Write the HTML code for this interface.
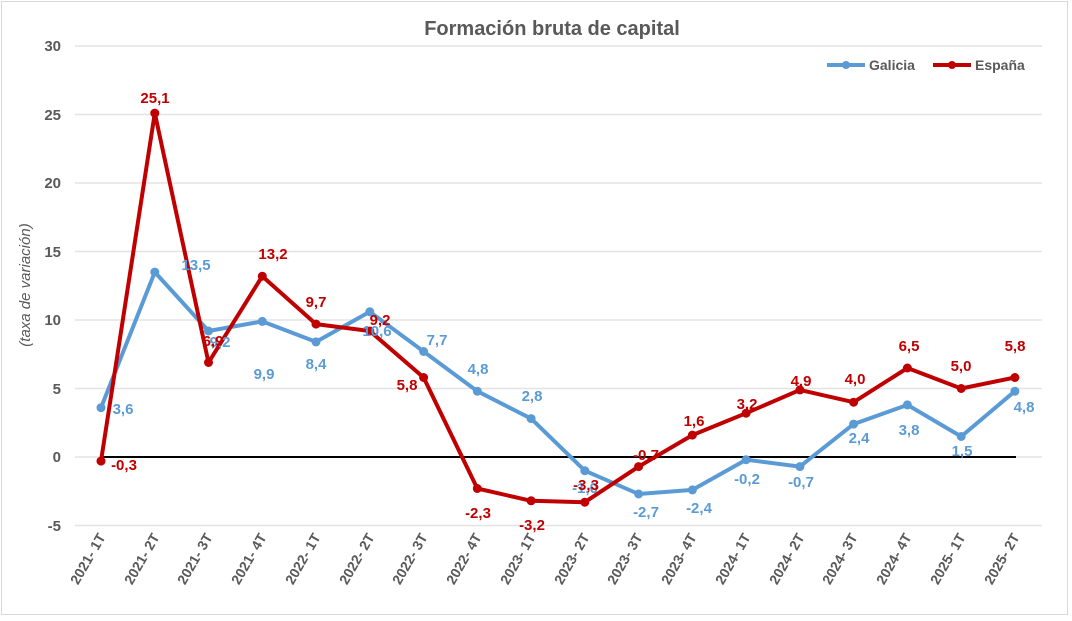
<!DOCTYPE html>
<html><head><meta charset="utf-8"><style>
html,body{margin:0;padding:0;background:#fff}
svg{display:block;font-family:"Liberation Sans",Arial,sans-serif}
</style></head><body>
<svg width="1072" height="621" viewBox="0 0 1072 621" xmlns="http://www.w3.org/2000/svg">
<rect x="1.5" y="1.5" width="1066" height="613" fill="#fff" stroke="#d9d9d9" stroke-width="1"/>
<text x="552" y="35" text-anchor="middle" font-size="20" font-weight="bold" fill="#595959">Formación bruta de capital</text>
<g stroke="#e3e3e3" stroke-width="1.5">
<line x1="75" x2="1042" y1="46" y2="46"/><line x1="75" x2="1042" y1="114.5" y2="114.5"/>
<line x1="75" x2="1042" y1="183" y2="183"/><line x1="75" x2="1042" y1="251.5" y2="251.5"/>
<line x1="75" x2="1042" y1="320" y2="320"/><line x1="75" x2="1042" y1="388.5" y2="388.5"/>
<line x1="75" x2="1042" y1="457" y2="457"/><line x1="75" x2="1042" y1="525.5" y2="525.5"/>
</g>
<line x1="101" x2="1016" y1="457" y2="457" stroke="#000" stroke-width="2"/>
<g font-size="15" font-weight="bold" fill="#595959" text-anchor="end">
<text x="61" y="51">30</text><text x="61" y="120">25</text><text x="61" y="188">20</text>
<text x="61" y="257">15</text><text x="61" y="325">10</text><text x="61" y="394">5</text>
<text x="61" y="462">0</text><text x="61" y="531">-5</text>
</g>
<text transform="translate(30,285) rotate(-90)" text-anchor="middle" font-size="15" font-style="italic" fill="#595959">(taxa de variación)</text>
<g font-size="14" font-weight="bold" fill="#595959" text-anchor="end">
<text transform="translate(106,537) rotate(-60)">2021- 1T</text>
<text transform="translate(160,537) rotate(-60)">2021- 2T</text>
<text transform="translate(213,537) rotate(-60)">2021- 3T</text>
<text transform="translate(267,537) rotate(-60)">2021- 4T</text>
<text transform="translate(321,537) rotate(-60)">2022- 1T</text>
<text transform="translate(375,537) rotate(-60)">2022- 2T</text>
<text transform="translate(428,537) rotate(-60)">2022- 3T</text>
<text transform="translate(482,537) rotate(-60)">2022- 4T</text>
<text transform="translate(536,537) rotate(-60)">2023- 1T</text>
<text transform="translate(590,537) rotate(-60)">2023- 2T</text>
<text transform="translate(643,537) rotate(-60)">2023- 3T</text>
<text transform="translate(697,537) rotate(-60)">2023- 4T</text>
<text transform="translate(751,537) rotate(-60)">2024- 1T</text>
<text transform="translate(805,537) rotate(-60)">2024- 2T</text>
<text transform="translate(858,537) rotate(-60)">2024- 3T</text>
<text transform="translate(912,537) rotate(-60)">2024- 4T</text>
<text transform="translate(966,537) rotate(-60)">2025- 1T</text>
<text transform="translate(1020,537) rotate(-60)">2025- 2T</text>
</g>
<polyline fill="none" stroke="#5b9bd5" stroke-width="4" stroke-linejoin="round" points="101,407.7 154.8,272.1 208.5,331 262.3,321.4 316,341.9 369.8,311.8 423.6,351.5 477.3,391.2 531.1,418.6 584.8,470.7 638.6,494 692.4,489.9 746.1,459.7 799.9,466.6 853.6,424.1 907.4,404.9 961.2,436.5 1014.9,391.2"/>
<g fill="#5b9bd5">
<circle cx="101" cy="407.7" r="4.5"/><circle cx="154.8" cy="272.1" r="4.5"/><circle cx="208.5" cy="331" r="4.5"/><circle cx="262.3" cy="321.4" r="4.5"/><circle cx="316" cy="341.9" r="4.5"/><circle cx="369.8" cy="311.8" r="4.5"/><circle cx="423.6" cy="351.5" r="4.5"/><circle cx="477.3" cy="391.2" r="4.5"/><circle cx="531.1" cy="418.6" r="4.5"/><circle cx="584.8" cy="470.7" r="4.5"/><circle cx="638.6" cy="494" r="4.5"/><circle cx="692.4" cy="489.9" r="4.5"/><circle cx="746.1" cy="459.7" r="4.5"/><circle cx="799.9" cy="466.6" r="4.5"/><circle cx="853.6" cy="424.1" r="4.5"/><circle cx="907.4" cy="404.9" r="4.5"/><circle cx="961.2" cy="436.5" r="4.5"/><circle cx="1014.9" cy="391.2" r="4.5"/>
</g>
<polyline fill="none" stroke="#c00000" stroke-width="4" stroke-linejoin="round" points="101,461.1 154.8,113.1 208.5,362.5 262.3,276.2 316,324.1 369.8,331 423.6,377.5 477.3,488.5 531.1,500.8 584.8,502.2 638.6,466.6 692.4,435.1 746.1,413.2 799.9,389.9 853.6,402.2 907.4,368 961.2,388.5 1014.9,377.5"/>
<g fill="#c00000">
<circle cx="101" cy="461.1" r="4.5"/><circle cx="154.8" cy="113.1" r="4.5"/><circle cx="208.5" cy="362.5" r="4.5"/><circle cx="262.3" cy="276.2" r="4.5"/><circle cx="316" cy="324.1" r="4.5"/><circle cx="369.8" cy="331" r="4.5"/><circle cx="423.6" cy="377.5" r="4.5"/><circle cx="477.3" cy="488.5" r="4.5"/><circle cx="531.1" cy="500.8" r="4.5"/><circle cx="584.8" cy="502.2" r="4.5"/><circle cx="638.6" cy="466.6" r="4.5"/><circle cx="692.4" cy="435.1" r="4.5"/><circle cx="746.1" cy="413.2" r="4.5"/><circle cx="799.9" cy="389.9" r="4.5"/><circle cx="853.6" cy="402.2" r="4.5"/><circle cx="907.4" cy="368" r="4.5"/><circle cx="961.2" cy="388.5" r="4.5"/><circle cx="1014.9" cy="377.5" r="4.5"/>
</g>
<g font-size="15" font-weight="bold" fill="#5b9bd5" text-anchor="middle">
<text x="123" y="414">3,6</text><text x="196" y="270">13,5</text><text x="220" y="347">9,2</text>
<text x="264" y="379">9,9</text><text x="316" y="369">8,4</text><text x="377" y="336">10,6</text>
<text x="437" y="345">7,7</text><text x="478" y="374">4,8</text><text x="532" y="401">2,8</text>
<text x="585" y="493">-1,0</text><text x="646" y="517">-2,7</text><text x="699" y="513">-2,4</text>
<text x="747" y="484">-0,2</text><text x="801" y="487">-0,7</text><text x="859" y="443">2,4</text>
<text x="909" y="435">3,8</text><text x="962" y="456">1,5</text><text x="1024" y="412">4,8</text>
</g>
<g font-size="15" font-weight="bold" fill="#c00000" text-anchor="middle">
<text x="124" y="470">-0,3</text><text x="155" y="103">25,1</text><text x="213" y="346">6,9</text>
<text x="273" y="259">13,2</text><text x="316" y="307">9,7</text><text x="380" y="325">9,2</text>
<text x="407" y="390">5,8</text><text x="478" y="518">-2,3</text><text x="532" y="530">-3,2</text>
<text x="586" y="490">-3,3</text><text x="646" y="460">-0,7</text><text x="694" y="426">1,6</text>
<text x="747" y="409">3,2</text><text x="801" y="386">4,9</text><text x="855" y="384">4,0</text>
<text x="909" y="351">6,5</text><text x="961" y="371">5,0</text><text x="1015" y="351">5,8</text>
</g>
<line x1="827" x2="865" y1="65" y2="65" stroke="#5b9bd5" stroke-width="4"/>
<circle cx="846" cy="65" r="4" fill="#5b9bd5"/>
<text x="869" y="70" font-size="14" font-weight="bold" fill="#595959">Galicia</text>
<line x1="933" x2="971" y1="65" y2="65" stroke="#c00000" stroke-width="4"/>
<circle cx="952" cy="65" r="4" fill="#c00000"/>
<text x="975" y="70" font-size="14" font-weight="bold" fill="#595959">España</text>
</svg>
</body></html>
